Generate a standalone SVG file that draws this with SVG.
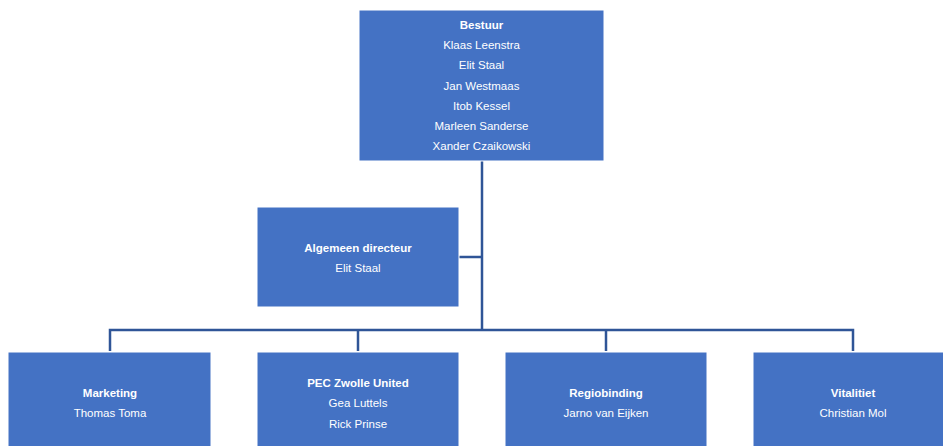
<svg xmlns="http://www.w3.org/2000/svg" width="943" height="446" viewBox="0 0 943 446">
<style>
.box{fill:#4472C4;stroke:#FFFFFF;stroke-width:1}
.t{font-family:"Liberation Sans",Arial,sans-serif;font-size:11.5px;fill:#FFFFFF;text-anchor:middle}
.b{font-weight:bold}
.c{fill:none;stroke:#2F5597;stroke-width:2.5}
</style>
<rect width="943" height="446" fill="#FFFFFF"/>
<g id="connectors">
<path class="c" d="M482,161 V330"/>
<path class="c" d="M459,257 H482"/>
<path class="c" d="M110,351 V330 H853 V351"/>
<path class="c" d="M358,330 V351"/>
<path class="c" d="M606,330 V351"/>
</g>
<g id="bestuur">
<rect class="box" x="359" y="10" width="245" height="151"/>
<text class="t b" x="481.5" y="29">Bestuur</text>
<text class="t" x="481.5" y="49">Klaas Leenstra</text>
<text class="t" x="481.5" y="69">Elit Staal</text>
<text class="t" x="481.5" y="90">Jan Westmaas</text>
<text class="t" x="481.5" y="110">Itob Kessel</text>
<text class="t" x="481.5" y="130">Marleen Sanderse</text>
<text class="t" x="481.5" y="150">Xander Czaikowski</text>
</g>
<g id="directeur">
<rect class="box" x="257" y="207" width="202" height="100"/>
<text class="t b" x="358" y="252">Algemeen directeur</text>
<text class="t" x="358" y="272">Elit Staal</text>
</g>
<g id="marketing">
<rect class="box" x="8" y="352" width="203" height="100"/>
<text class="t b" x="110" y="397">Marketing</text>
<text class="t" x="110" y="417">Thomas Toma</text>
</g>
<g id="pec">
<rect class="box" x="257" y="352" width="202" height="100"/>
<text class="t b" x="358" y="387">PEC Zwolle United</text>
<text class="t" x="358" y="407">Gea Luttels</text>
<text class="t" x="358" y="428">Rick Prinse</text>
</g>
<g id="regiobinding">
<rect class="box" x="505" y="352" width="202" height="100"/>
<text class="t b" x="606" y="397">Regiobinding</text>
<text class="t" x="606" y="417">Jarno van Eijken</text>
</g>
<g id="vitaliteit">
<rect class="box" x="753" y="352" width="203" height="100"/>
<text class="t b" x="853" y="397">Vitalitiet</text>
<text class="t" x="853" y="417">Christian Mol</text>
</g>
</svg>
